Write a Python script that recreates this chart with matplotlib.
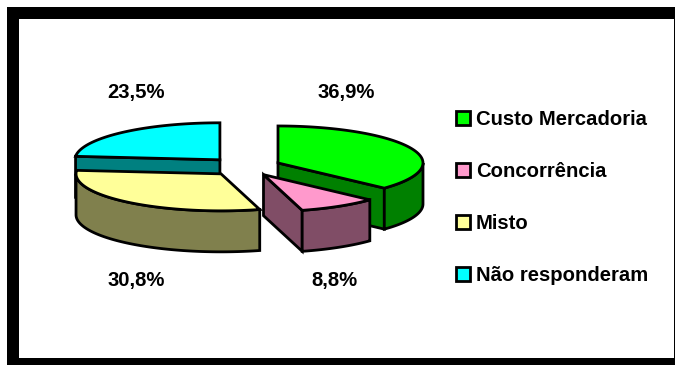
import numpy as np
import matplotlib
matplotlib.use("Agg")
import matplotlib.pyplot as plt
from matplotlib.patches import Polygon, Rectangle

plt.rcParams["font.family"] = ["Liberation Sans", "DejaVu Sans"]

# Survey shares, clockwise from twelve o'clock
categories = ["Custo Mercadoria", "Concorrência", "Misto", "Não responderam"]
shares = [36.9, 8.8, 30.8, 23.5]
value_labels = ["36,9%", "8,8%", "30,8%", "23,5%"]
top_colors = ["#00FF00", "#FF99CC", "#FFFF99", "#00FFFF"]
wall_colors = ["#008000", "#804D66", "#80804D", "#008080"]

# Pie layout in pixels
CX, CY = 244.5, 166.7
RX, RY = 145.0, 37.0
DEPTH = 41.0
EXPLODE = 0.252
LW = 2.0
FONT_SIZE = 14.6
label_xy = [(346, 92.5), (334, 280.5), (136, 280.5), (136, 92.5)]

fig = plt.figure(figsize=(6.75, 3.65), dpi=100, facecolor="white")
ax = fig.add_axes([0, 0, 1, 1])
ax.set_xlim(0, 675)
ax.set_ylim(365, 0)
ax.axis("off")

# Heavy outer frame, open to the image edge on the right and bottom
ax.add_patch(Rectangle((7, 7), 668, 358, fc="black", ec="none", zorder=0))
ax.add_patch(Rectangle((19, 19), 655, 339, fc="white", ec="none", zorder=0.5))


def rim(cx, cy, a0, a1, n=80):
    """Points along the top rim between two clockwise angles in degrees."""
    t = np.radians(np.linspace(a0, a1, n))
    return np.column_stack([cx + RX * np.sin(t), cy - RY * np.cos(t)])


def draw(points, color, z):
    ax.add_patch(Polygon(points, closed=True, fc=color, ec="black", lw=LW,
                         joinstyle="miter", zorder=z))


edges = np.concatenate([[0], np.cumsum(shares)]) / np.sum(shares) * 360
# Paint from the back of the pie to the front
for z, i in enumerate([3, 0, 2, 1], start=1):
    a0, a1 = edges[i], edges[i + 1]
    mid = np.radians((a0 + a1) / 2)
    cx = CX + EXPLODE * RX * np.sin(mid)
    cy = CY - EXPLODE * RY * np.cos(mid)
    apex = np.array([cx, cy])
    drop = np.array([0, DEPTH])
    base = z * 10

    # Cut faces that turn toward the viewer
    for ang, visible in ((a0, 180 < a0 < 360), (a1, 0 < a1 < 180)):
        if visible:
            p = rim(cx, cy, ang, ang, 1)[0]
            draw([apex, p, p + drop, apex + drop], wall_colors[i], base)

    # Curved outer wall on the front half only
    lo, hi = max(a0, 90), min(a1, 270)
    if lo < hi:
        arc = rim(cx, cy, lo, hi)
        draw(np.vstack([arc, (arc + drop)[::-1]]), wall_colors[i], base + 1)

    # Top face
    draw(np.vstack([apex, rim(cx, cy, a0, a1)]), top_colors[i], base + 2)

for (x, y), text in zip(label_xy, value_labels):
    ax.text(x, y, text, ha="center", va="center", fontsize=FONT_SIZE,
            fontweight="bold", color="black", zorder=100)

handles = [Rectangle((0, 0), 1, 1, fc=c, ec="black", lw=LW) for c in top_colors]
leg = ax.legend(handles, categories, loc="upper left",
                bbox_to_anchor=(456 / 675, 1 - 110 / 365), frameon=False,
                prop={"size": FONT_SIZE, "weight": "bold"}, labelspacing=1.63,
                handlelength=0.68, handleheight=0.68, handletextpad=0.3,
                borderpad=0, borderaxespad=0)
leg.set_zorder(100)

fig.savefig("out.png", dpi=100, facecolor="white")
